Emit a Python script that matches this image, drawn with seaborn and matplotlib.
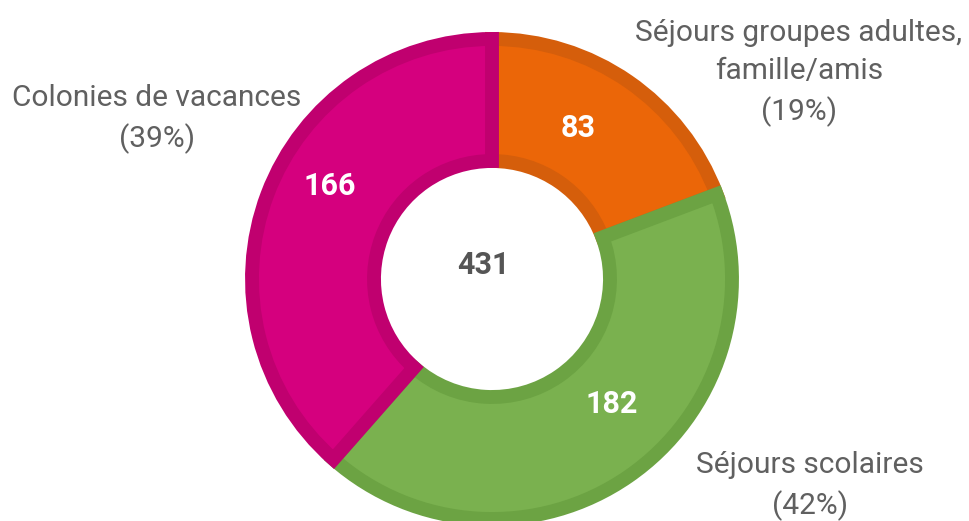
import seaborn as sns
import matplotlib.pyplot as plt

categories = ["Séjours groupes adultes,\nfamille/amis", "Séjours scolaires", "Colonies de vacances"]
values = [83, 182, 166]
fills = ["#EB6608", "#7AB14F", "#D5007E"]
borders = ["#D55E0B", "#6CA343", "#C0006F"]

sns.set_theme(style="white")
plt.rcParams['font.family'] = ['Roboto', 'DejaVu Sans']

W, H = 969, 521
fig = plt.figure(figsize=(W / 100, H / 100), dpi=100)
ax = fig.add_axes([0, 0, 1, 1])

cx, cy = 492, H - 279
r_out, r_in = 240, 118

wedges, _ = ax.pie(values, colors=fills, startangle=90, counterclock=False,
                   center=(cx, cy), radius=r_out,
                   wedgeprops=dict(width=r_out - r_in, linewidth=10))
for w, bc in zip(wedges, borders):
    w.set_edgecolor(bc)
    w.set_clip_path(w)  # keep the border on the inside of each slice

# pie resets the limits, so set them afterwards (pixel units)
ax.set_xlim(0, W)
ax.set_ylim(0, H)
ax.set_aspect('equal')
ax.axis('off')

total = sum(values)

# value labels inside the ring
value_pos = [(578, H - 128), (612, H - 404), (330, H - 186)]
for (x, y), v in zip(value_pos, values):
    ax.text(x, y, str(v), ha='center', va='center', color='white',
            fontsize=22, fontweight='bold')

ax.text(483, H - 265, str(total), ha='center', va='center', color='#555555',
        fontsize=22, fontweight='bold')

# outside category labels
label_pos = [(799, H - 73), (810, H - 486), (157, H - 119)]
for (x, y), cat, v in zip(label_pos, categories, values):
    ax.text(x, y, f"{cat}\n({v / total:.0%})", ha='center', va='center',
            color='#606060', fontsize=21.5, linespacing=1.45)

fig.savefig("out.png", dpi=100)
